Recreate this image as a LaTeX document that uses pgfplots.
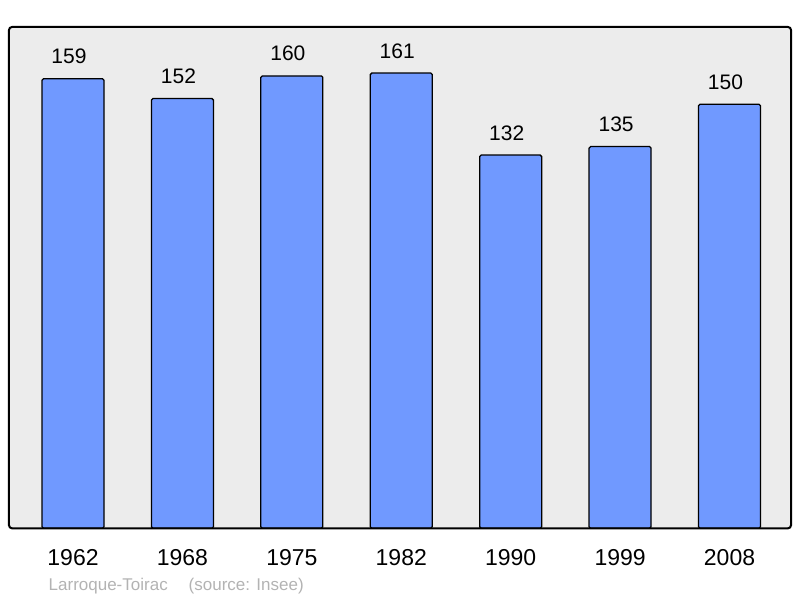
\documentclass[border=0pt]{standalone}
\usepackage{pgfplots}
\pgfplotsset{compat=1.18}
\usepackage{fontspec}
\setmainfont{Liberation Sans}
\definecolor{barc}{HTML}{7099FF}
\definecolor{bgc}{HTML}{ECECEC}
\definecolor{capc}{HTML}{B3B3B3}
\begin{document}
\begin{tikzpicture}[x=1pt,y=1pt]
\useasboundingbox (0,0) rectangle (800,598);
\begin{axis}[
  at={(9pt,69.7pt)}, anchor=south west,
  scale only axis, width=782pt, height=501.3pt,
  xmin=-0.585, xmax=6.562, ymin=0, ymax=177.3,
  clip=false,
  axis line style={draw=none},
  axis background/.style={fill=bgc, rounded corners=3pt},
  ytick=\empty,
  xtick={0,...,6},
  xticklabels={1962,1968,1975,1982,1990,1999,2008},
  major tick length=0pt,
  xticklabel style={anchor=base, yshift=-36.7pt, inner sep=0pt, font=\fontsize{23}{27}\selectfont},
  /pgf/number format/assume math mode=true,
  ybar, bar width=62pt, bar shift=0pt,
  nodes near coords,
  every node near coord/.append style={anchor=base, xshift=-4pt, yshift=15pt, inner sep=0pt, font=\fontsize{21}{25}\selectfont, text=black},
]
\addplot[fill=barc, draw=black, line width=1.3pt, rounded corners=1.5pt] coordinates {(0,159) (1,152) (2,160) (3,161) (4,132) (5,135) (6,150)};
\draw[line width=2pt, rounded corners=3pt] (rel axis cs:0,0) rectangle (rel axis cs:1,1);
\end{axis}
\node[anchor=base west, inner sep=0pt, text=capc, font=\fontsize{17}{20}\selectfont] at (48.5,7.3) {Larroque-Toirac\hspace{21pt}(source: Insee)};
\end{tikzpicture}
\end{document}
